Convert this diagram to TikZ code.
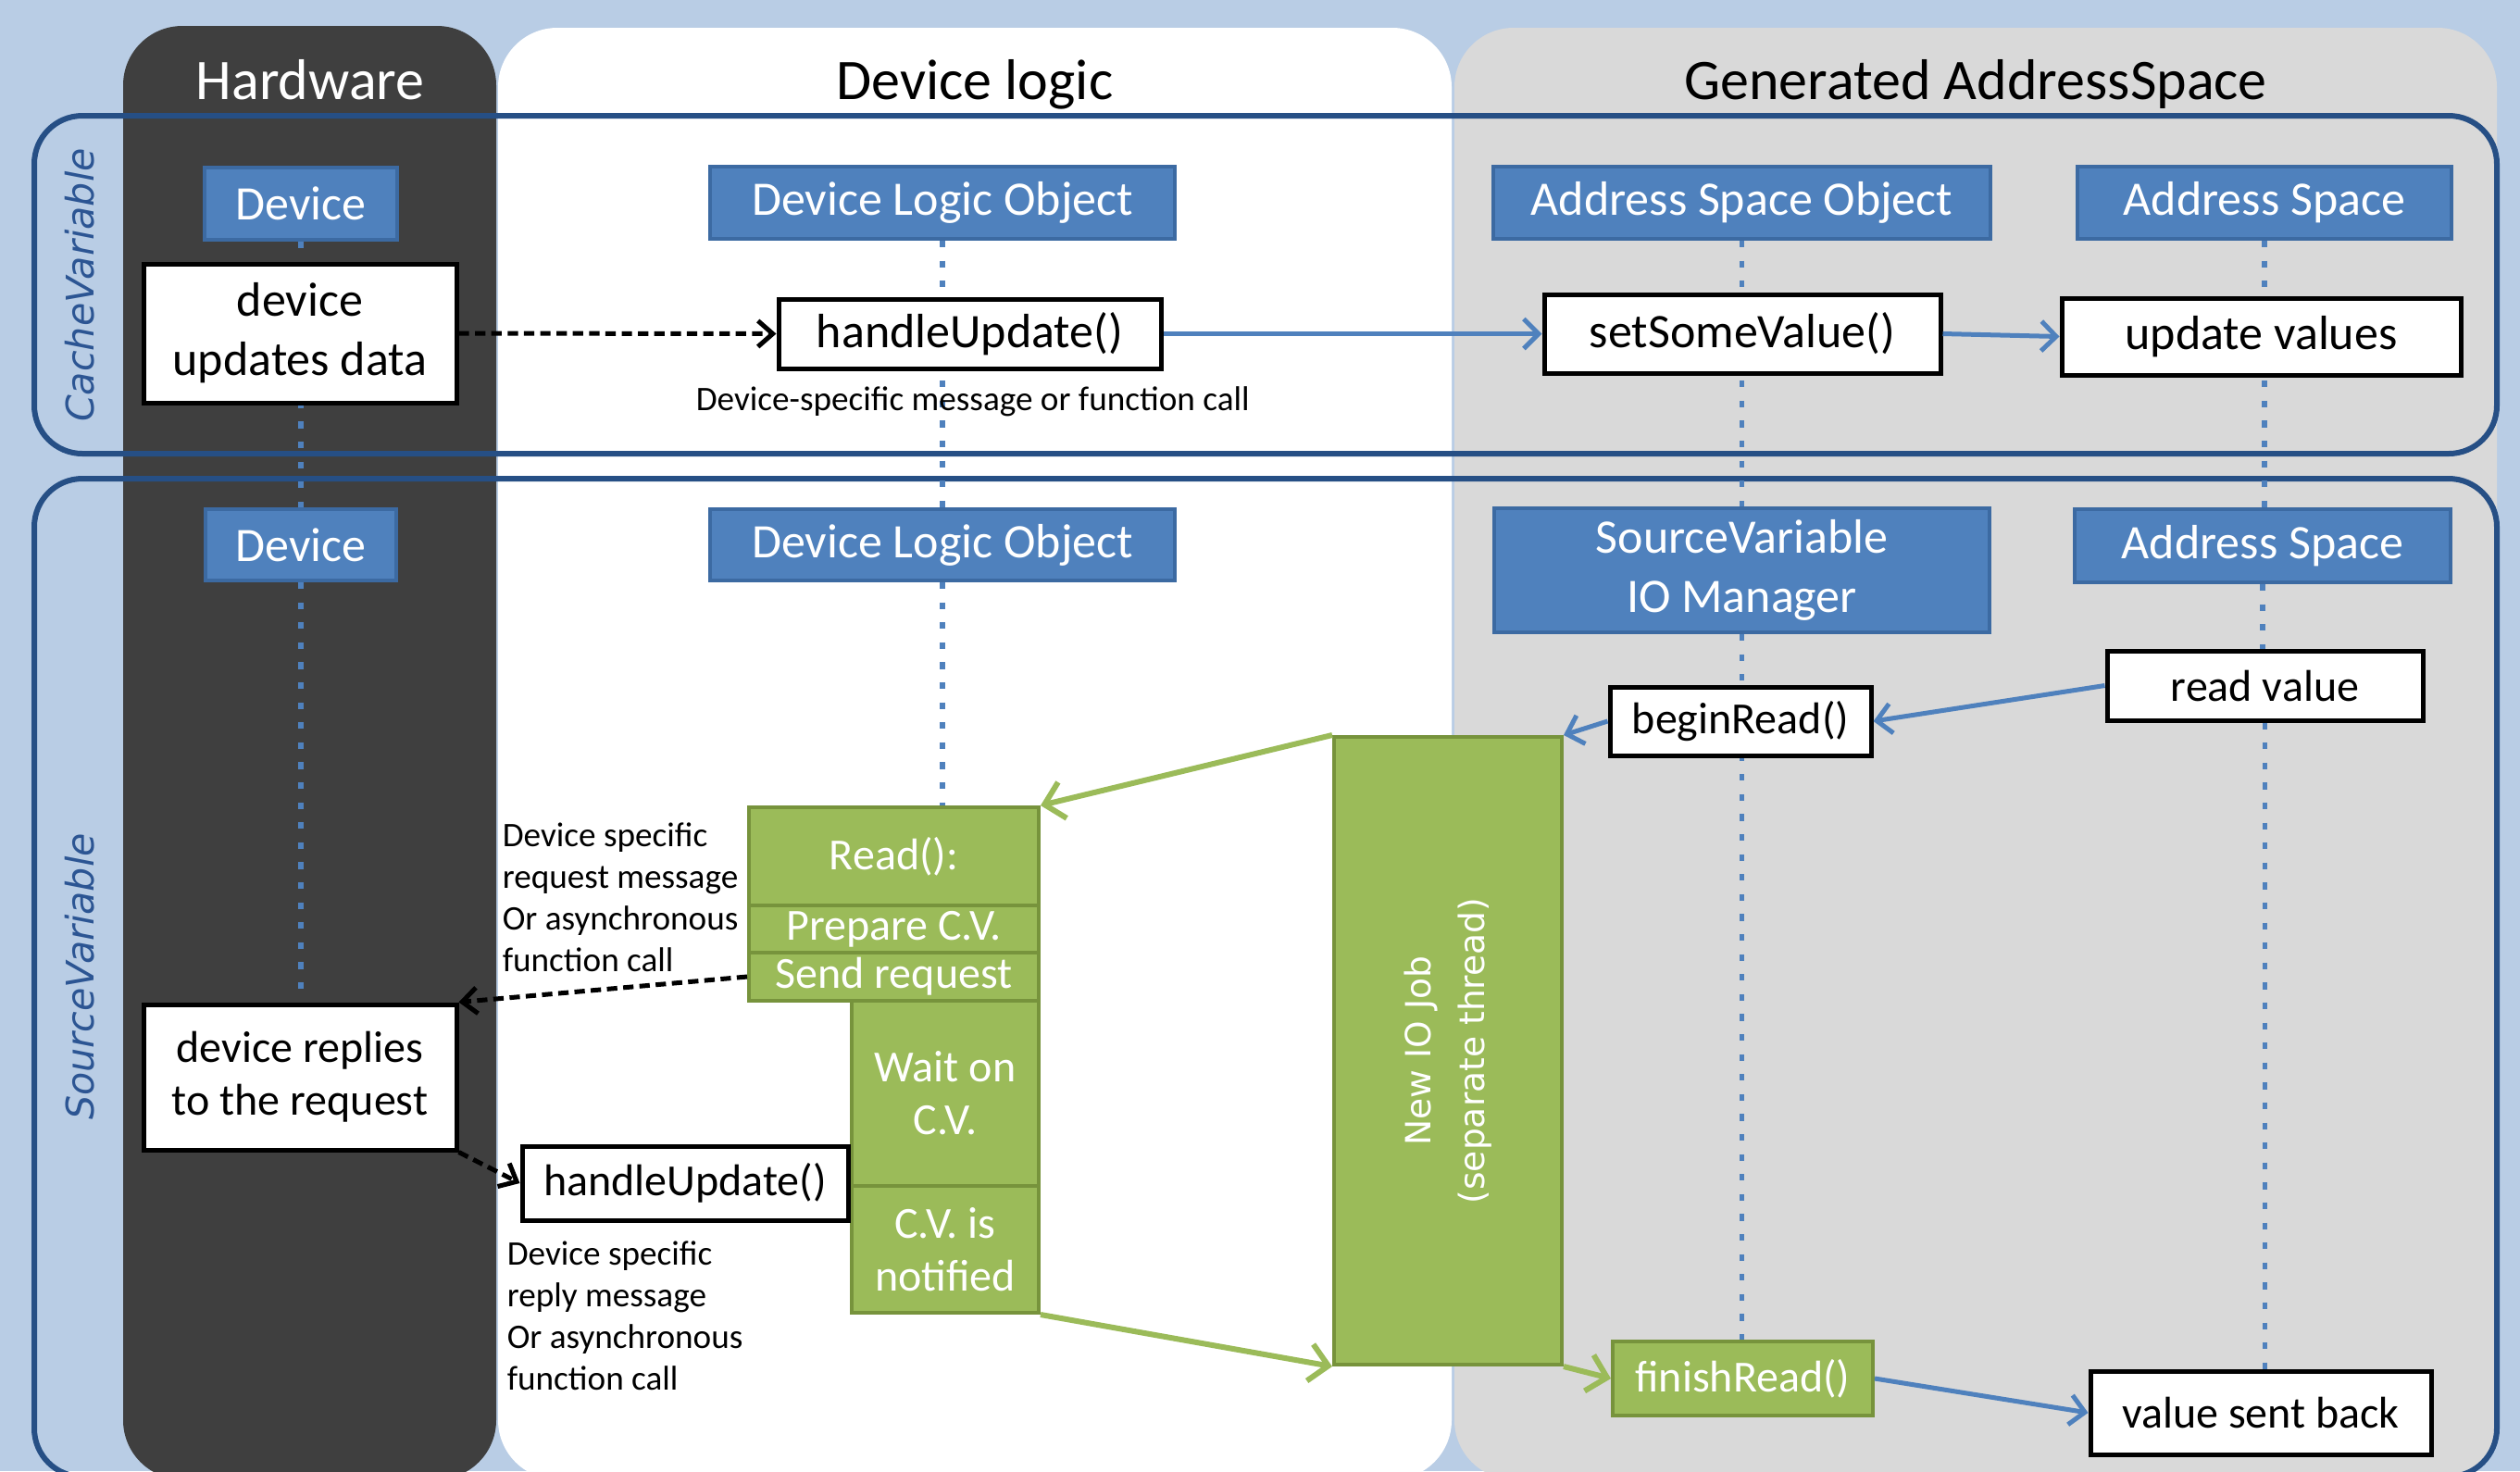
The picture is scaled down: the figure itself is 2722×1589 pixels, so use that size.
\documentclass[tikz,border=0pt]{standalone}
\usepackage{fontspec}
\setmainfont{Carlito}
\newfontfamily\dejavu{DejaVu Sans}
\usetikzlibrary{arrows.meta}
\pgfdeclarelayer{bglayer}
\pgfdeclarelayer{lifelayer}
\pgfsetlayers{bglayer,lifelayer,main}
\definecolor{bgblue}{HTML}{B9CDE5}
\definecolor{hwgray}{HTML}{3F3F3F}
\definecolor{aspgray}{HTML}{D9D9D9}
\definecolor{bandblue}{HTML}{264F85}
\definecolor{hdrblue}{HTML}{4F81BD}
\definecolor{hdrborder}{HTML}{3C6AA2}
\definecolor{lifeblue}{HTML}{4F81BD}
\definecolor{arrowblue}{HTML}{4F81BD}
\definecolor{boxgreen}{HTML}{9BBB59}
\definecolor{greenborder}{HTML}{77933C}
\definecolor{labelblue}{HTML}{2C5593}
\newcommand{\fHead}{\fontsize{15.5}{18.6}\selectfont}
\newcommand{\fBig}{\fontsize{13}{16}\selectfont}
\newcommand{\fMed}{\fontsize{12}{14.2}\selectfont}
\newcommand{\fSmall}{\fontsize{9.3}{11.25}\selectfont}
\newcommand{\fVert}{\dejavu\itshape\fontsize{10.3}{12}\selectfont}
\newcommand{\fJob}{\dejavu\fontsize{9.4}{14.5}\selectfont}
\tikzset{
 corners/.style n args={4}{minimum width={(#3-#1)*0.25pt}, minimum height={(#4-#2)*0.25pt}, at={({(#1+#3)/2},{(#2+#4)/2})}},
 hdr/.style={fill=hdrblue, draw=hdrborder, line width=1pt, inner sep=0pt, text=white, font=\fBig, align=center},
 wbox/.style={fill=white, draw=black, line width=1.25pt, inner sep=0pt, font=\fBig, align=center},
 wboxs/.style={wbox, font=\fMed},
 gbox/.style={fill=boxgreen, draw=greenborder, line width=1pt, inner sep=0pt, text=white, font=\fMed, align=center},
 life/.style={draw=lifeblue, line width=1.4pt, dash pattern=on 1.8pt off 3.6pt},
 barr/.style={draw=arrowblue, line width=1.25pt, -{Straight Barb[length=4pt,width=8pt]}},
 darr/.style={draw=black, line width=1.25pt, dash pattern=on 2.8pt off 1.6pt, -{Straight Barb[length=4pt,width=7pt]}},
 garr/.style={draw=boxgreen, line width=1.5pt, -{Straight Barb[length=5pt,width=10pt]}},
 notetxt/.style={font=\fSmall, align=left, inner sep=0pt, anchor=north west},
 ttl/.style={font=\fHead, anchor=base},
 vlabel/.style={font=\fVert, text=labelblue, rotate=90},
}
\begin{document}
\begin{tikzpicture}[x=0.25pt,y=-0.25pt]
\useasboundingbox (0,0) rectangle (2722,1589);
\begin{pgfonlayer}{bglayer}
\fill[bgblue] (0,0) rectangle (2722,1589);
\fill[hwgray, rounded corners=16pt] (133,28) rectangle (536,1598);
\fill[white, rounded corners=16pt] (538,30) rectangle (1568,1598);
\fill[aspgray, rounded corners=16pt] (1571,30) rectangle (2697,1598);
\draw[bandblue, line width=1.5pt, rounded corners=13pt] (37,125) rectangle (2697,490);
\draw[bandblue, line width=1.5pt, rounded corners=13pt] (37,517) rectangle (2697,1595);
\end{pgfonlayer}

% titles
\node[ttl, text=white] (tHW) at (335,107) {Hardware};
\node[ttl] (tDL) at (1053,107) {Device logic};
\node[ttl] (tGA) at (2134,107) {Generated AddressSpace};
\node[vlabel] (lCache) at (86,308) {CacheVariable};
\node[vlabel] (lSource) at (86,1055) {SourceVariable};

% headers cache band
\node[hdr, corners={221}{181}{429}{259}] (devA) {Device};
\node[hdr, corners={767}{180}{1269}{258}] (dloA) {Device Logic Object};
\node[hdr, corners={1613}{180}{2150}{258}] (asoA) {Address Space Object};
\node[hdr, corners={2244}{180}{2648}{258}] (asA) {Address Space};
% headers source band
\node[hdr, corners={222}{550}{428}{627}] (devB) {Device};
\node[hdr, corners={767}{550}{1269}{627}] (dloB) {Device Logic Object};
\node[hdr, corners={1614}{549}{2149}{683}] (iom) {SourceVariable\\IO Manager};
\node[hdr, corners={2241}{550}{2647}{629}] (asB) {Address Space};

% cache band boxes
\node[wbox, corners={155}{285}{493}{435}] (dua) {device\\updates data};
\node[wbox, corners={841}{323}{1254}{398}] (hu1) {handleUpdate()};
\node[wbox, corners={1668}{318}{2096}{403}] (ssv) {setSomeValue()};
\node[wbox, corners={2227}{322}{2658}{405}] (uv) {update values};
\node[notetxt, anchor=base west] (msg1) at (751,443) {Device-specific message or function call};

% source band boxes
\node[wboxs, corners={2276}{703}{2617}{778}] (rv) {read value};
\node[wboxs, corners={1739}{742}{2021}{816}] (br) {beginRead()};
\node[gbox, corners={1441}{796}{1687}{1474}] (job) {};
\node[font=\fJob, text=white, rotate=90, align=center] (jobtxt) at (job.center) {New IO Job\\(separate thread)};
\node[gbox, corners={1742}{1449}{2023}{1529}] (fin) {finishRead()};
\node[wboxs, corners={2258}{1481}{2626}{1571}] (vsb) {value sent back};

\node[gbox, corners={809}{872}{1122}{978}] (rd) {Read():};
\node[gbox, corners={809}{978}{1122}{1029}] (prep) {Prepare C.V.};
\node[gbox, corners={809}{1029}{1122}{1081}] (send) {Send request};
\node[gbox, corners={920}{1081}{1122}{1281}] (wait) {Wait on\\C.V.};
\node[gbox, corners={920}{1281}{1122}{1418}] (notif) {C.V. is\\notified};

\node[wboxs, corners={155}{1085}{493}{1242}] (rep) {device replies\\to the request};
\node[wboxs, corners={564}{1238}{916}{1318}] (hu2) {handleUpdate()};
\node[notetxt] (n1) at (542,888) {Device specific\\request message\\Or asynchronous\\function call};
\node[notetxt] (n2) at (547,1340) {Device specific\\reply message\\Or asynchronous\\function call};

% lifelines
\begin{pgfonlayer}{lifelayer}
\draw[life] (devA.south) -- (devB.north);
\draw[life] (devB.south) -- (devB.south |- rep.north);
\draw[life] (dloA.south) -- (dloB.north);
\draw[life] (dloB.south) -- (dloB.south |- rd.north);
\draw[life] (asoA.south) -- (asoA.south |- iom.north);
\draw[life] (iom.south) -- (iom.south |- fin.north);
\draw[life] (asA.south) -- (asA.south |- asB.north);
\draw[life] (asB.south) -- (asB.south |- rv.north);
\draw[life] (rv.south) -- (rv.south |- vsb.north);
\end{pgfonlayer}

% arrows
\draw[darr] (dua.east) -- (hu1.west);
\draw[barr] (hu1.east) -- (ssv.west);
\draw[barr] (ssv.east) -- (uv.west);
\draw[barr] (rv.west) -- (br.east);
\draw[barr] (br.west) -- (job.north east);
\draw[garr] (job.north west) -- (rd.north east);
\draw[garr] (notif.south east) -- (job.south west);
\draw[garr] (job.south east) -- (fin.west);
\draw[barr] (fin.east) -- (vsb.west);
\draw[darr] (send.west) -- (rep.north east);
\draw[darr] (rep.south east) -- (hu2.west);
\end{tikzpicture}
\end{document}
